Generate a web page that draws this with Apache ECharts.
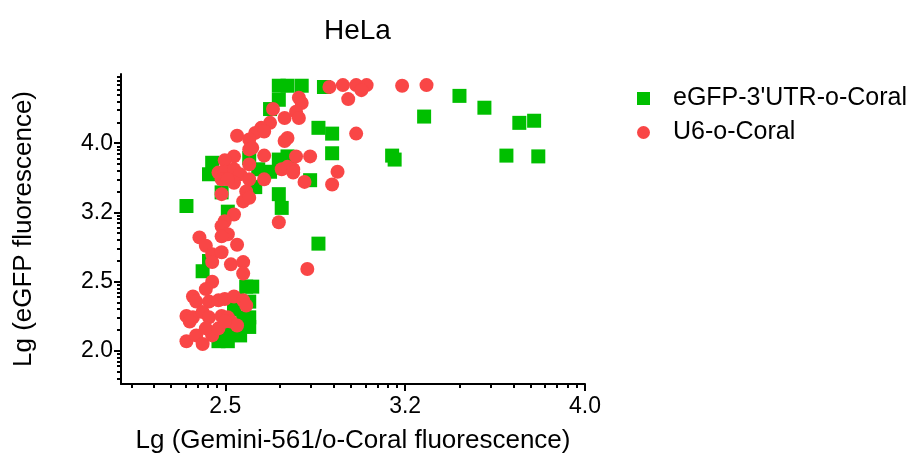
<!DOCTYPE html>
<html>
<head>
<meta charset="utf-8">
<script src="https://cdn.jsdelivr.net/npm/echarts@6/dist/echarts.min.js"></script>
<style>
  html, body { margin: 0; padding: 0; background: #fff; }
  #chart { width: 912px; height: 459px; }
</style>
</head>
<body>
<div id="chart"></div>
<script>
var seriesNames = ["eGFP-3'UTR-o-Coral", "U6-o-Coral"];

// eGFP-3'UTR-o-Coral points (x, y)
var egfpX = [2.69, 2.72, 2.77, 2.85, 2.69, 2.66, 2.83, 2.88, 3.24, 2.88, 3.11, 3.12, 2.47, 2.46, 2.59, 2.69,
  2.72, 2.62, 2.66, 2.80, 2.50, 2.61, 2.69, 2.70, 2.39, 2.52, 2.83, 2.44, 2.46, 2.58, 2.60, 2.59,
  2.59, 2.59, 2.56, 2.49, 2.52, 2.54, 2.55, 3.39, 3.50, 3.66, 3.73, 3.60, 3.75, 2.57, 2.53, 2.50];
var egfpY = [4.82, 4.82, 4.82, 4.80, 4.60, 4.46, 4.19, 4.11, 4.35, 3.85, 3.82, 3.77, 3.73, 3.59, 3.79, 3.77,
  3.81, 3.65, 3.62, 3.52, 3.38, 3.44, 3.36, 3.21, 3.23, 3.17, 2.85, 2.60, 2.69, 2.47, 2.47, 2.35,
  2.23, 2.16, 2.10, 2.06, 2.06, 2.29, 2.37, 4.66, 4.48, 4.26, 4.29, 3.82, 3.81, 2.23, 2.15, 2.11];

// U6-o-Coral points
var u6X = [2.87, 2.92, 2.97, 3.01, 2.99, 3.15, 3.25, 2.94, 2.97, 2.76, 2.77, 2.75, 2.76, 2.67, 2.71, 2.66,
  2.63, 2.61, 2.64, 2.55, 2.72, 2.71, 2.59, 2.59, 2.60, 2.64, 2.59, 2.54, 2.51, 2.75, 2.80, 2.70,
  2.72, 2.74, 2.74, 2.64, 2.78, 2.88, 2.90, 2.49, 2.51, 2.54, 2.56, 2.50, 2.54, 2.52, 2.59, 2.50,
  2.58, 2.57, 2.59, 2.69, 2.54, 2.51, 2.50, 2.52, 2.50, 2.55, 2.43, 2.45, 2.47, 2.47, 2.50, 2.53,
  2.57, 2.57, 2.79, 2.47, 2.45, 2.41, 2.42, 2.46, 2.49, 2.51, 2.54, 2.57, 2.58, 2.39, 2.41, 2.44,
  2.46, 2.50, 2.40, 2.52, 2.53, 2.55, 2.39, 2.42, 2.44, 2.47, 2.45, 2.49, 2.51];
var u6Y = [4.80, 4.83, 4.83, 4.83, 4.75, 4.82, 4.83, 4.61, 4.11, 4.63, 4.55, 4.42, 4.33, 4.46, 4.33, 4.26,
  4.19, 4.12, 4.14, 4.08, 4.05, 4.01, 4.03, 3.90, 3.92, 3.82, 3.71, 3.81, 3.76, 3.81, 3.81, 3.65,
  3.68, 3.65, 3.61, 3.53, 3.50, 3.47, 3.62, 3.61, 3.62, 3.65, 3.59, 3.53, 3.49, 3.53, 3.53, 3.36,
  3.39, 3.28, 3.32, 3.06, 3.14, 3.07, 3.02, 2.94, 2.92, 2.84, 2.91, 2.83, 2.75, 2.68, 2.77, 2.66,
  2.68, 2.58, 2.62, 2.51, 2.45, 2.39, 2.35, 2.35, 2.36, 2.37, 2.39, 2.36, 2.32, 2.24, 2.23, 2.27,
  2.23, 2.24, 2.20, 2.23, 2.20, 2.17, 2.06, 2.10, 2.04, 2.10, 2.15, 2.15, 2.20];

// log axes: major ticks every 0.1 decade (labels 2.0, 2.5, 3.2, 4.0)
var xMajorExp = [0.4, 0.5, 0.6];
var yMajorExp = [0.3, 0.4, 0.5, 0.6];
var xRangeExp = [0.342, 0.6];
var yRangeExp = [0.252, 0.7];

function pow10(e) { return Math.pow(10, e); }

// minor ticks: a little log cycle inside every 0.1 decade
function minorTicks(range) {
  var out = [];
  for (var i = Math.floor(range[0] * 10) - 1; i <= Math.ceil(range[1] * 10); i++) {
    for (var k = 2; k <= 9; k++) {
      var e = i / 10 + 0.1 * Math.log10(k);
      if (e > range[0] + 0.001 && e < range[1] - 0.001) out.push(pow10(e));
    }
  }
  return out;
}

var font = "'Liberation Sans', Arial, sans-serif";
var black = "#000";

var chartDom = document.getElementById("chart");
var myChart = echarts.init(chartDom);

var baseAxis = {
  type: "log",
  logBase: 10,
  splitLine: { show: false },
  minorTick: { show: false },
};

var option = {
  animation: false,
  backgroundColor: "#fff",
  title: {
    text: "HeLa",
    left: 319,
    top: 12,
    textStyle: { fontFamily: font, fontSize: 28, fontWeight: "normal", color: black },
  },
  legend: {
    orient: "vertical",
    left: 632,
    top: 81,
    itemWidth: 13,
    itemHeight: 13,
    itemGap: 9,
    data: [
      { name: seriesNames[0], icon: "rect" },
      { name: seriesNames[1], icon: "circle" },
    ],
    textStyle: { fontFamily: font, fontSize: 25, color: black, padding: [0, 0, 0, 18] },
  },
  grid: { left: 121, right: 327, top: 74, bottom: 72 },
  xAxis: [
    Object.assign({}, baseAxis, {
      min: pow10(xRangeExp[0]),
      max: pow10(xRangeExp[1]),
      name: "Lg (Gemini-561/o-Coral fluorescence)",
      nameLocation: "middle",
      nameGap: 44,
      nameTextStyle: { fontFamily: font, fontSize: 26, color: black },
      axisLine: { lineStyle: { color: black, width: 2 } },
      axisTick: { length: 7, lineStyle: { color: black, width: 2 }, customValues: xMajorExp.map(pow10) },
      axisLabel: {
        margin: 11,
        fontFamily: font,
        fontSize: 23,
        color: black,
        customValues: xMajorExp.map(pow10),
        formatter: function (v) { return v.toFixed(1); },
      },
    }),
    Object.assign({}, baseAxis, {
      min: pow10(xRangeExp[0]),
      max: pow10(xRangeExp[1]),
      position: "bottom",
      axisLine: { show: false },
      axisLabel: { show: false },
      axisTick: { length: 4, lineStyle: { color: black, width: 2 }, customValues: minorTicks(xRangeExp) },
    }),
  ],
  yAxis: [
    Object.assign({}, baseAxis, {
      min: pow10(yRangeExp[0]),
      max: pow10(yRangeExp[1]),
      name: "Lg (eGFP fluorescence)",
      nameLocation: "middle",
      nameGap: 84,
      nameTextStyle: { fontFamily: font, fontSize: 26, color: black },
      axisLine: { lineStyle: { color: black, width: 2 } },
      axisTick: { length: 7, lineStyle: { color: black, width: 2 }, customValues: yMajorExp.map(pow10) },
      axisLabel: {
        margin: 8,
        fontFamily: font,
        fontSize: 23,
        color: black,
        customValues: yMajorExp.map(pow10),
        formatter: function (v) { return v.toFixed(1); },
      },
    }),
    Object.assign({}, baseAxis, {
      min: pow10(yRangeExp[0]),
      max: pow10(yRangeExp[1]),
      position: "left",
      axisLine: { show: false },
      axisLabel: { show: false },
      axisTick: { length: 4, lineStyle: { color: black, width: 2 }, customValues: minorTicks(yRangeExp) },
    }),
  ],
  series: [
    {
      name: seriesNames[0],
      type: "scatter",
      symbol: "rect",
      symbolSize: 14,
      itemStyle: { color: "#00bf00", opacity: 1 },
      data: egfpX.map(function (x, i) { return [x, egfpY[i]]; }),
    },
    {
      name: seriesNames[1],
      type: "scatter",
      symbol: "circle",
      symbolSize: 14,
      itemStyle: { color: "#f94646", opacity: 1 },
      data: u6X.map(function (x, i) { return [x, u6Y[i]]; }),
    },
  ],
};

option && myChart.setOption(option);
</script>
</body>
</html>
